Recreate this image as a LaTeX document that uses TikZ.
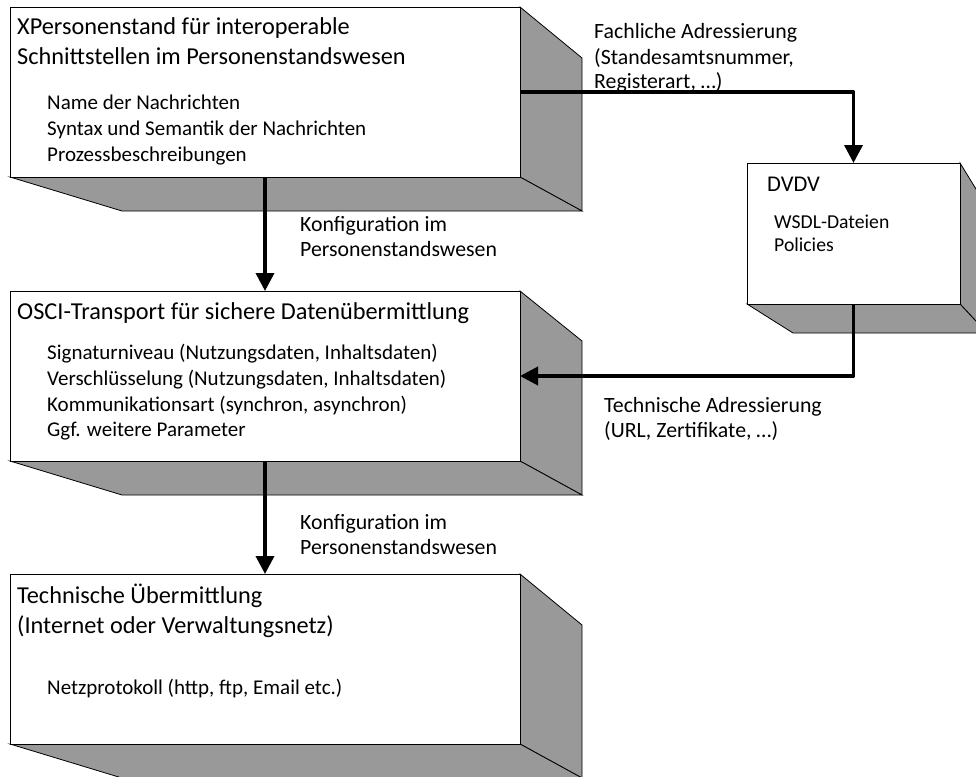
\documentclass[tikz,border=0pt]{standalone}
\usepackage{fontspec}
\setmainfont{Carlito}
\usetikzlibrary{arrows.meta}
\definecolor{boxgray}{RGB}{153,153,153}
\begin{document}
\begin{tikzpicture}[x=1pt,y=-1pt,
  face/.style={fill=boxgray, draw=black, line width=0.8pt, line join=miter},
  frontface/.style={draw=black, fill=white, line width=0.8pt, inner sep=0pt, outer sep=0pt, anchor=north west},
  ttl/.style={anchor=base west, inner sep=0pt, font=\fontsize{24.3}{29}\selectfont},
  itm/.style={anchor=base west, inner sep=0pt, font=\fontsize{21}{25}\selectfont},
  dvttl/.style={anchor=base west, inner sep=0pt, font=\fontsize{22.5}{27}\selectfont},
  dvitm/.style={anchor=base west, inner sep=0pt, font=\fontsize{19.7}{24}\selectfont},
  lbl/.style={anchor=base west, inner sep=0pt, font=\fontsize{21.8}{25}\selectfont},
  conn/.style={line width=3.6pt, line join=round, -{Triangle[length=18pt,width=18pt]}},
]
\useasboundingbox (0,0) rectangle (976,776);
\fill[white] (0,0) rectangle (976,776);
\clip (0,0) rectangle (976,776);

% ---------- box 1 ----------
\coordinate (b1bt) at (582,58);
\coordinate (b1br) at (582,211);
\coordinate (b1bl) at (122,211);
\node[frontface, minimum width=510pt, minimum height=170pt] (b1) at (10,7) {};
\filldraw[face] (b1.north east) -- (b1bt) -- (b1br) -- (b1.south east) -- cycle;
\filldraw[face] (b1.south west) -- (b1.south east) -- (b1br) -- (b1bl) -- cycle;

% ---------- box 2 ----------
\coordinate (b2bt) at (582,341);
\coordinate (b2br) at (582,495);
\coordinate (b2bl) at (122,495);
\node[frontface, minimum width=510pt, minimum height=170pt] (b2) at (10,291) {};
\filldraw[face] (b2.north east) -- (b2bt) -- (b2br) -- (b2.south east) -- cycle;
\filldraw[face] (b2.south west) -- (b2.south east) -- (b2br) -- (b2bl) -- cycle;

% ---------- box 3 ----------
\coordinate (b3bt) at (582,625);
\coordinate (b3br) at (582,778);
\coordinate (b3bl) at (122,778);
\node[frontface, minimum width=510pt, minimum height=170pt] (b3) at (10,574) {};
\filldraw[face] (b3.north east) -- (b3bt) -- (b3br) -- (b3.south east) -- cycle;
\filldraw[face] (b3.south west) -- (b3.south east) -- (b3br) -- (b3bl) -- cycle;

% ---------- DVDV ----------
\coordinate (dvbt) at (987,207);
\coordinate (dvbr) at (987,333);
\coordinate (dvbl) at (793,333);
\node[frontface, minimum width=213pt, minimum height=141pt] (dv) at (747,163) {};
\filldraw[face] (dv.north east) -- (dvbt) -- (dvbr) -- (dv.south east) -- cycle;
\filldraw[face] (dv.south west) -- (dv.south east) -- (dvbr) -- (dvbl) -- cycle;

% redraw fronts on top
\node[frontface, minimum width=510pt, minimum height=170pt] (f1) at (10,7) {};
\node[frontface, minimum width=510pt, minimum height=170pt] (f2) at (10,291) {};
\node[frontface, minimum width=510pt, minimum height=170pt] (f3) at (10,574) {};
\node[frontface, minimum width=213pt, minimum height=141pt] (f4) at (747,163) {};

% ---------- texts box 1 ----------
\node[ttl] (t1a) at (17,35) {XPersonenstand für interoperable};
\node[ttl] (t1b) at (17,64) {Schnittstellen im Personenstandswesen};
\node[itm] (t1c) at (47,109) {Name der Nachrichten};
\node[itm] (t1d) at (47,135) {Syntax und Semantik der Nachrichten};
\node[itm] (t1e) at (47,161) {Prozessbeschreibungen};

% ---------- texts box 2 ----------
\node[ttl] (t2a) at (17,319) {OSCI-Transport für sichere Datenübermittlung};
\node[itm] (t2b) at (47,359) {Signaturniveau (Nutzungsdaten, Inhaltsdaten)};
\node[itm] (t2c) at (47,385) {Verschlüsselung (Nutzungsdaten, Inhaltsdaten)};
\node[itm] (t2d) at (47,411) {Kommunikationsart (synchron, asynchron)};
\node[itm] (t2e) at (47,436) {Ggf. weitere Parameter};

% ---------- texts box 3 ----------
\node[ttl] (t3a) at (17,603) {Technische Übermittlung};
\node[ttl] (t3b) at (17,633) {(Internet oder Verwaltungsnetz)};
\node[itm] (t3c) at (47,694) {Netzprotokoll (http, ftp, Email etc.)};

% ---------- texts DVDV ----------
\node[dvttl] (t4a) at (767,191) {DVDV};
\node[dvitm] (t4b) at (774,228) {WSDL-Dateien};
\node[dvitm] (t4c) at (774,251) {Policies};

% ---------- labels ----------
\node[lbl] (l1a) at (300,231) {Konfiguration im};
\node[lbl] (l1b) at (300,256) {Personenstandswesen};
\node[lbl] (l2a) at (300,529) {Konfiguration im};
\node[lbl] (l2b) at (300,554) {Personenstandswesen};
\node[lbl] (l3a) at (594,39) {Fachliche Adressierung};
\node[lbl] (l3b) at (594,64) {(Standesamtsnummer,};
\node[lbl] (l3c) at (594,88) {Registerart, …)};
\node[lbl] (l4a) at (604,412) {Technische Adressierung};
\node[lbl] (l4b) at (604,437) {(URL, Zertifikate, …)};

% ---------- connectors ----------
\draw[conn] (f1.east) -| (f4.north);
\draw[conn] (f4.south) |- (f2.east);
\draw[conn] (f1.south) -- (f2.north);
\draw[conn] (f2.south) -- (f3.north);
\end{tikzpicture}
\end{document}
